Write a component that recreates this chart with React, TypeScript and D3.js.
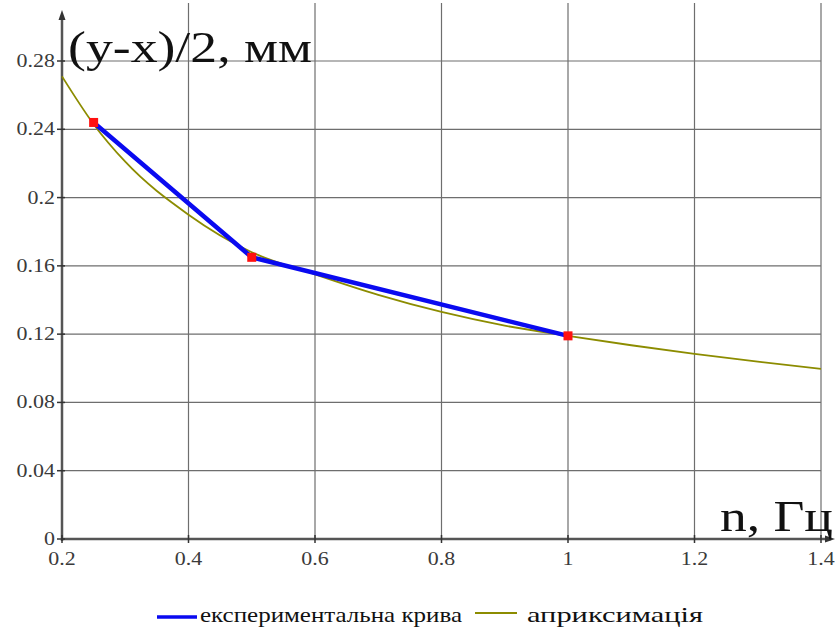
import React from "react";
import * as d3 from "d3";

// Measured points of the experimental curve
const expX = [0.25, 0.5, 1.0];
const expY = [0.244, 0.165, 0.119];

// Approximation curve, sampled along its length
const apxX = [0.2, 0.25, 0.3, 0.4, 0.5, 0.6, 0.7, 0.8, 0.9, 1.0, 1.1, 1.2, 1.3, 1.4];
const apxY = [0.271, 0.243, 0.221, 0.19, 0.168, 0.155, 0.143, 0.133, 0.125, 0.119, 0.1135, 0.1085, 0.1039, 0.0996];

const xTicks = [0.2, 0.4, 0.6, 0.8, 1.0, 1.2, 1.4];
const xTickLabels = ["0.2", "0.4", "0.6", "0.8", "1", "1.2", "1.4"];
const yTicks = [0, 0.04, 0.08, 0.12, 0.16, 0.2, 0.24, 0.28];
const yTickLabels = ["0", "0.04", "0.08", "0.12", "0.16", "0.2", "0.24", "0.28"];

const yTitle = "(y-x)/2, мм";
const xTitle = "n, Гц";
const legendLabels = ["експериментальна крива", "априксимація"];

const W = 835;
const H = 628;
const FONT = "'Times New Roman', 'Liberation Serif', Tinos, 'DejaVu Serif', serif";
const SX = 1.22; // horizontal stretch of the tick lettering

const txt: React.CSSProperties = { fontFamily: FONT };

export default function App() {
  const x = d3.scaleLinear().domain([0.2, 1.4]).range([62, 821]);
  const y = d3.scaleLinear().domain([0, 0.28]).range([539, 61]);

  const apxLine = d3
    .line<number>()
    .x((_, i) => x(apxX[i]))
    .y((d) => y(d))
    .curve(d3.curveMonotoneX)(apxY) as string;

  const expLine = d3
    .line<number>()
    .x((_, i) => x(expX[i]))
    .y((d) => y(d))(expY) as string;

  const x0 = x(0.2);
  const y0 = y(0);
  const gridTop = 3;

  return (
    <svg
      width={W}
      height={H}
      style={{ position: "absolute", left: 0, top: 0, background: "#fff" }}
    >
      <rect width={W} height={H} fill="#fff" />
      {/* grid */}
      {xTicks.slice(1).map((t) => (
        <line key={"gx" + t} x1={x(t)} x2={x(t)} y1={gridTop} y2={y0} stroke="#6e6e6e" strokeWidth={1.2} />
      ))}
      {yTicks.slice(1).map((t) => (
        <line key={"gy" + t} x1={x0} x2={x(1.4)} y1={y(t)} y2={y(t)} stroke="#6e6e6e" strokeWidth={1.2} />
      ))}

      {/* axes */}
      <line x1={x0} x2={831} y1={y0} y2={y0} stroke="#555" strokeWidth={2.5} />
      <line x1={x0} x2={x0} y1={y0 + 2} y2={16} stroke="#555" strokeWidth={2.5} />
      <path d={`M${x0},10 L${x0 - 3.5},20 L${x0 + 3.5},20 Z`} fill="#333" />
      <path d={`M835,${y0} L825,${y0 - 3.5} L825,${y0 + 3.5} Z`} fill="#333" />

      {/* ticks */}
      {xTicks.map((t) => (
        <line key={"tx" + t} x1={x(t)} x2={x(t)} y1={y0 - 4} y2={y0 + 4} stroke="#333" strokeWidth={1.5} />
      ))}
      {yTicks.map((t) => (
        <line key={"ty" + t} x1={x0 - 5} x2={x0 + 3} y1={y(t)} y2={y(t)} stroke="#333" strokeWidth={1.5} />
      ))}

      {/* tick labels */}
      {xTicks.map((t, i) => (
        <g key={"lx" + t} transform={`translate(${x(t)},565) scale(${SX},1)`}>
          <text textAnchor="middle" fontSize={18} fill="#3a3a3a" style={txt}>
            {xTickLabels[i]}
          </text>
        </g>
      ))}
      {yTicks.map((t, i) => (
        <g key={"ly" + t} transform={`translate(55,${y(t) + 6}) scale(${SX},1)`}>
          <text textAnchor="end" fontSize={18} fill="#3a3a3a" style={txt}>
            {yTickLabels[i]}
          </text>
        </g>
      ))}

      {/* axis titles */}
      <text x={68} y={62} fontSize={45} fill="#111" style={txt} textLength={244} lengthAdjust="spacingAndGlyphs">
        {yTitle}
      </text>
      <text x={720} y={531} fontSize={45} fill="#111" style={txt} textLength={113} lengthAdjust="spacingAndGlyphs">
        {xTitle}
      </text>

      {/* series */}
      <path d={apxLine} fill="none" stroke="#8c8c00" strokeWidth={1.8} />
      <path d={expLine} fill="none" stroke="#0a0af0" strokeWidth={4.5} strokeLinejoin="round" />
      {expX.map((v, i) => (
        <rect key={"m" + v} x={x(v) - 4.5} y={y(expY[i]) - 4.5} width={9} height={9} fill="#ff1010" />
      ))}

      {/* legend */}
      <line x1={157} x2={197} y1={617} y2={617} stroke="#0a0af0" strokeWidth={3.5} />
      <text x={200} y={622} fontSize={21} fill="#111" style={txt} textLength={262} lengthAdjust="spacingAndGlyphs">
        {legendLabels[0]}
      </text>
      <line x1={475} x2={517} y1={613} y2={613} stroke="#8c8c00" strokeWidth={2} />
      <text x={527} y={622} fontSize={21} fill="#111" style={txt} textLength={176} lengthAdjust="spacingAndGlyphs">
        {legendLabels[1]}
      </text>
    </svg>
  );
}
